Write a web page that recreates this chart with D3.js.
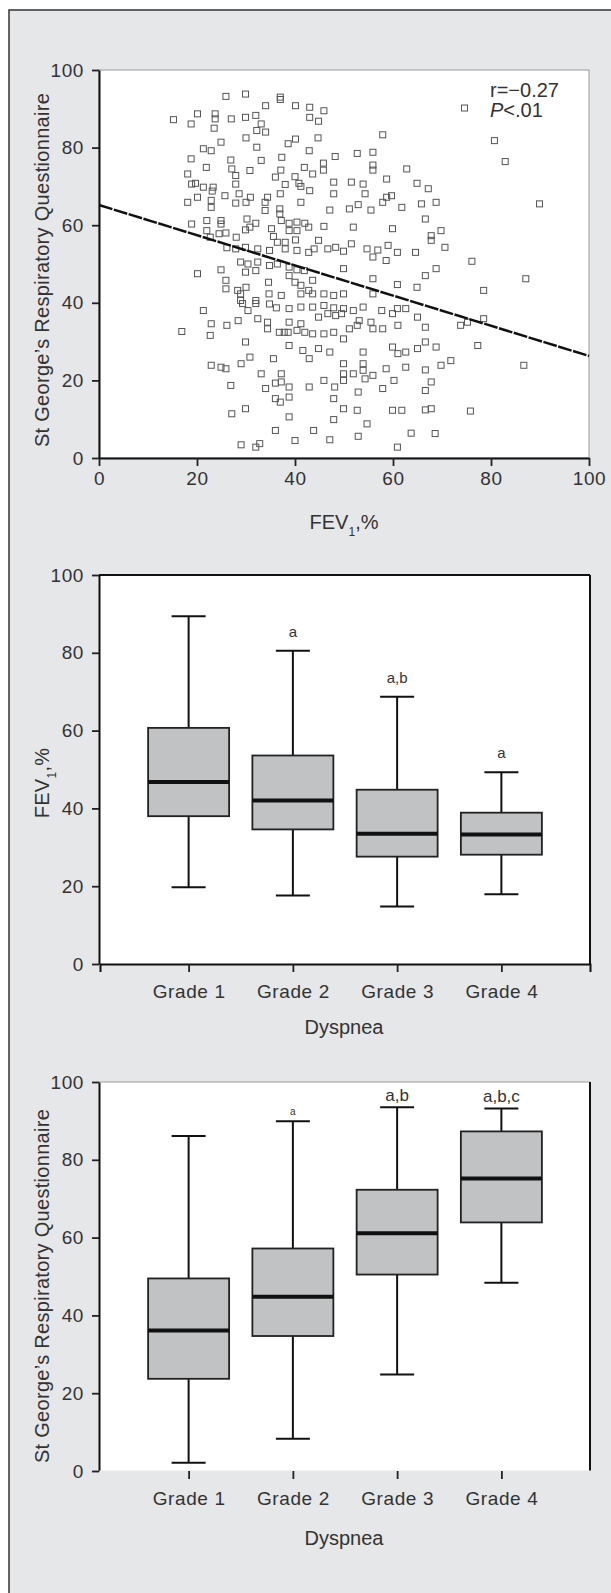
<!DOCTYPE html>
<html>
<head>
<meta charset="utf-8">
<script src="https://cdn.jsdelivr.net/npm/d3@7"></script>
<style>
  html, body { margin: 0; background: #fff; overflow: hidden; }
  svg { display: block; }
  text { font-family: "Liberation Sans", Arial, sans-serif; fill: #333; }
</style>
</head>
<body>
<script>
// scatter: [FEV1 %, SGRQ]
var scatterPoints = [
  [25.9,93.2],[29.9,93.8],[37.0,93.0],[37.0,92.4],[40.1,90.8],[43.0,90.4],[45.9,89.5],[34.0,90.8],[15.2,87.2],[20.1,88.7],
  [18.8,86.1],[23.7,88.7],[23.7,87.4],[27.0,87.4],[29.9,87.8],[32.0,88.3],[33.1,86.1],[32.2,84.4],[34.0,84.0],[43.0,87.8],
  [44.8,86.8],[23.5,85.0],[74.6,90.2],[57.9,83.3],[80.7,81.8],[82.9,76.4],[89.9,65.5],[40.1,82.2],[38.6,81.0],[21.3,79.7],
  [22.9,79.2],[24.9,81.4],[30.0,82.5],[32.2,80.1],[42.9,79.2],[44.7,82.5],[48.2,77.7],[52.7,78.5],[55.9,78.8],[18.8,77.1],
  [21.9,74.9],[26.9,76.8],[33.1,76.7],[37.3,77.5],[41.9,74.9],[45.8,76.0],[45.8,74.2],[55.9,75.5],[55.9,74.2],[62.8,74.5],
  [18.1,73.2],[27.1,74.5],[27.9,72.8],[30.8,74.1],[37.1,74.2],[40.0,72.5],[43.6,73.2],[18.9,70.6],[19.7,70.8],[21.3,69.8],
  [23.3,69.8],[27.9,70.6],[36.0,72.4],[38.0,70.5],[40.8,70.8],[41.2,70.0],[47.9,71.1],[51.5,71.1],[53.9,70.6],[58.7,71.9],
  [64.9,70.8],[67.2,69.4],[23.1,68.8],[25.7,67.6],[28.6,68.1],[30.9,67.2],[34.4,67.2],[37.0,68.1],[43.0,68.9],[47.9,68.1],
  [54.3,68.1],[58.7,67.2],[59.7,67.6],[18.1,65.9],[20.1,67.2],[22.9,66.4],[22.9,64.6],[27.9,65.7],[30.0,65.9],[33.9,65.9],
  [33.9,63.8],[36.9,64.2],[36.9,62.9],[41.2,65.9],[47.1,63.9],[51.1,64.2],[52.9,65.3],[55.5,63.9],[57.9,65.9],[61.8,64.6],
  [65.8,65.5],[68.8,65.9],[18.9,60.3],[22.0,61.2],[22.0,58.6],[24.9,61.2],[24.9,60.3],[30.2,61.6],[30.8,59.5],[32.0,60.5],
  [35.2,59.1],[37.2,61.2],[38.8,60.5],[38.8,58.6],[40.4,60.8],[40.4,58.6],[42.0,60.5],[42.8,59.5],[45.9,59.7],[51.9,59.5],
  [59.9,59.1],[66.6,61.6],[69.8,58.6],[24.5,57.8],[25.9,58.0],[28.0,56.9],[29.9,58.8],[35.6,57.1],[36.4,55.6],[38.0,55.6],
  [40.1,56.2],[44.8,56.1],[67.8,57.3],[67.8,56.1],[70.6,54.3],[22.7,56.9],[26.1,54.2],[27.9,53.9],[29.9,54.3],[32.4,53.9],
  [34.8,53.5],[38.0,53.9],[40.4,53.5],[42.8,53.0],[43.9,53.9],[46.7,53.9],[48.3,54.3],[49.9,53.3],[51.5,55.2],[54.7,53.9],
  [56.9,53.6],[59.0,54.8],[55.9,51.8],[58.6,50.9],[60.9,53.0],[64.6,53.0],[76.1,50.7],[28.9,50.5],[30.4,50.0],[32.4,50.5],
  [34.8,49.6],[36.4,50.0],[38.8,49.2],[40.4,48.5],[41.9,48.3],[49.9,48.8],[29.9,47.9],[32.0,48.3],[24.9,48.5],[20.1,47.5],
  [66.6,47.0],[68.8,48.8],[87.1,46.2],[38.8,47.0],[40.0,45.3],[25.9,45.8],[34.6,45.3],[43.6,45.8],[55.9,46.2],[60.9,44.7],
  [64.9,44.0],[25.9,43.6],[28.3,43.2],[28.9,42.3],[30.0,44.0],[34.7,42.3],[37.2,41.9],[41.2,44.5],[41.2,42.3],[42.8,43.2],
  [43.6,42.3],[45.9,42.3],[47.9,41.9],[49.9,42.3],[55.9,42.3],[78.5,43.2],[28.9,40.6],[29.3,39.8],[32.0,40.6],[32.0,39.8],
  [34.8,39.7],[36.2,38.7],[38.8,38.5],[41.2,38.9],[43.6,38.9],[45.9,39.3],[47.9,38.7],[49.9,38.5],[51.9,38.0],[53.9,38.9],
  [57.7,38.0],[59.9,37.2],[60.9,38.5],[62.6,38.5],[21.3,38.0],[30.4,38.0],[32.4,35.9],[34.4,35.0],[34.4,33.3],[38.8,35.0],
  [41.2,34.6],[44.8,36.3],[46.7,37.2],[48.3,36.7],[49.5,37.2],[53.1,35.4],[55.5,35.0],[65.0,36.3],[73.8,34.2],[75.2,35.0],
  [78.5,35.9],[22.9,34.6],[26.1,34.2],[28.4,35.4],[22.7,31.6],[16.9,32.6],[36.8,32.4],[37.8,32.4],[38.6,32.4],[40.4,32.9],
  [42.0,32.4],[43.6,32.0],[45.9,32.0],[47.9,32.4],[49.9,30.7],[51.1,33.3],[52.7,34.2],[55.9,33.3],[57.9,33.3],[61.0,34.2],
  [66.6,33.7],[77.3,29.0],[29.9,29.9],[38.8,29.0],[41.6,27.7],[44.8,28.2],[47.1,27.3],[53.9,27.3],[59.9,28.6],[61.0,26.9],
  [62.6,27.3],[65.0,28.2],[66.6,29.9],[68.8,28.6],[30.8,26.0],[35.6,25.6],[42.9,25.6],[49.9,24.3],[53.9,24.3],[22.9,23.9],
  [25.9,23.0],[24.9,23.4],[71.8,25.1],[69.8,23.9],[86.7,23.9],[29.0,24.3],[33.1,21.7],[37.2,21.7],[37.2,19.6],[36.0,19.3],
  [38.8,18.3],[42.9,18.3],[45.9,20.0],[49.9,21.7],[49.9,20.0],[51.9,21.7],[53.9,22.6],[54.3,20.4],[55.9,21.3],[58.6,23.0],
  [60.2,20.0],[62.6,23.4],[66.6,22.7],[67.8,19.6],[26.9,18.7],[34.0,17.9],[48.1,18.3],[52.9,17.0],[57.9,17.9],[66.6,17.4],
  [36.0,15.3],[37.0,14.4],[38.8,15.7],[47.9,15.3],[27.1,11.4],[29.9,12.7],[38.8,10.6],[47.9,9.9],[49.9,12.7],[52.7,12.3],
  [59.9,12.3],[61.8,12.3],[66.6,12.4],[67.8,12.7],[75.8,12.1],[54.7,8.8],[36.0,7.1],[43.8,7.1],[63.7,6.4],[68.6,6.3],
  [47.1,4.7],[40.0,4.5],[52.9,5.6],[29.0,3.4],[32.8,3.7],[32.0,2.8],[60.9,2.8]
];
var regLine = [[0, 65.2], [100, 26.3]];
var scatterXTicks = [0, 20, 40, 60, 80, 100];
var yTicks = [0, 20, 40, 60, 80, 100];

var grades = ["Grade 1", "Grade 2", "Grade 3", "Grade 4"];

// FEV1 % by dyspnea grade
var fevLow = [19.7, 17.6, 14.8, 17.9];
var fevQ1 = [38.0, 34.6, 27.6, 28.1];
var fevMedian = [46.8, 42.0, 33.5, 33.3];
var fevQ3 = [60.7, 53.6, 44.8, 38.9];
var fevHigh = [89.4, 80.5, 68.7, 49.3];
var fevMarks = ["", "a", "a,b", "a"];

// SGRQ by dyspnea grade
var sgrqLow = [2.1, 8.3, 24.8, 48.4];
var sgrqQ1 = [23.7, 34.7, 50.5, 63.9];
var sgrqMedian = [36.1, 44.8, 61.1, 75.2];
var sgrqQ3 = [49.5, 57.2, 72.3, 87.3];
var sgrqHigh = [86.1, 89.9, 93.5, 93.2];
var sgrqMarks = ["", "a", "a,b", "a,b,c"];

var W = 611, H = 1593;
var svg = d3.select("body").append("svg").attr("width", W).attr("height", H);

// page frame (only left and top edges fall inside the picture)
svg.append("rect").attr("x", 9).attr("y", 10).attr("width", 640).attr("height", 1620)
  .attr("fill", "#e5e7e9").attr("stroke", "#333").attr("stroke-width", 1.5);

var left = 99, right = 589;

function styleAxis(g, fs) {
  g.selectAll("text").style("font-size", fs + "px").style("letter-spacing", "0.6px").attr("fill", "#333");
  g.selectAll(".tick line").attr("stroke", "#222").attr("stroke-width", 1.8);
  g.select(".domain").attr("stroke", "#111").attr("stroke-width", 2);
}

function fevTitle(sel) {
  sel.append("tspan").attr("fill", "#333").text("FEV");
  sel.append("tspan").attr("fill", "#333").attr("baseline-shift", "sub").style("font-size", "12px").text("1");
  sel.append("tspan").attr("fill", "#333").text(",%");
}

// ---------- scatter ----------
(function () {
  var top = 70, bottom = 458;
  var x = d3.scaleLinear().domain([0, 100]).range([left, right]);
  var y = d3.scaleLinear().domain([0, 100]).range([bottom, top]);
  var g = svg.append("g");
  g.append("rect").attr("x", left).attr("y", top).attr("width", right - left).attr("height", bottom - top)
    .attr("fill", "#fff").attr("stroke", "#999").attr("stroke-width", 1);

  g.selectAll("rect.pt").data(scatterPoints).enter().append("rect").attr("class", "pt")
    .attr("x", function (d) { return x(d[0]) - 3; })
    .attr("y", function (d) { return y(d[1]) - 3; })
    .attr("width", 6).attr("height", 6)
    .attr("fill", "none").attr("stroke", "#555").attr("stroke-width", 1);

  g.append("path").datum(regLine)
    .attr("d", d3.line().x(function (d) { return x(d[0]); }).y(function (d) { return y(d[1]); }))
    .attr("stroke", "#111").attr("stroke-width", 2.5).attr("stroke-dasharray", "14,1.5").attr("fill", "none");

  var ya = g.append("g").attr("transform", "translate(" + left + ",0)")
    .call(d3.axisLeft(y).tickValues(yTicks).tickSize(7).tickSizeOuter(0).tickPadding(8));
  styleAxis(ya, 19);
  var xa = g.append("g").attr("transform", "translate(0," + bottom + ")")
    .call(d3.axisBottom(x).tickValues(scatterXTicks).tickSize(8).tickSizeOuter(0).tickPadding(6));
  styleAxis(xa, 19);

  g.append("text").attr("x", 490).attr("y", 97).style("font-size", "20px").text("r=\u22120.27");
  var p = g.append("text").attr("x", 490).attr("y", 117).style("font-size", "20px");
  p.append("tspan").attr("fill", "#333").style("font-style", "italic").text("P");
  p.append("tspan").attr("fill", "#333").text("<.01");

  g.append("text").attr("transform", "translate(49,270) rotate(-90)").attr("text-anchor", "middle")
    .style("font-size", "20px").style("letter-spacing", "0.3px").text("St George\u2019s Respiratory Questionnaire");
  g.append("text").attr("x", (left + right) / 2).attr("y", 529).attr("text-anchor", "middle")
    .style("font-size", "20px").call(fevTitle);
})();

// ---------- box plots ----------
function boxPanel(cfg) {
  var top = cfg.top, bottom = cfg.bottom;
  var x = d3.scalePoint().domain(grades).range([left + 1, right + 1]).padding(0.85);
  var y = d3.scaleLinear().domain([0, 100]).range([bottom, top]);
  var g = svg.append("g");
  var bw = 81, cw = 34;

  g.append("rect").attr("x", left).attr("y", top).attr("width", right - left + 1).attr("height", bottom - top)
    .attr("fill", "#fff");
  g.append("line").attr("x1", left).attr("x2", right + 1).attr("y1", top).attr("y2", top)
    .attr("stroke", cfg.topColor).attr("stroke-width", cfg.topWidth);
  g.append("line").attr("x1", right + 1).attr("x2", right + 1).attr("y1", top).attr("y2", bottom)
    .attr("stroke", "#111").attr("stroke-width", 2);

  grades.forEach(function (gr, i) {
    var cx = x(gr);
    var wh = g.append("g").attr("stroke", "#111").attr("stroke-width", 2);
    wh.append("line").attr("x1", cx).attr("x2", cx).attr("y1", y(cfg.low[i])).attr("y2", y(cfg.q1[i]));
    wh.append("line").attr("x1", cx).attr("x2", cx).attr("y1", y(cfg.q3[i])).attr("y2", y(cfg.high[i]));
    wh.append("line").attr("x1", cx - cw / 2).attr("x2", cx + cw / 2).attr("y1", y(cfg.low[i])).attr("y2", y(cfg.low[i]));
    wh.append("line").attr("x1", cx - cw / 2).attr("x2", cx + cw / 2).attr("y1", y(cfg.high[i])).attr("y2", y(cfg.high[i]));
    g.append("rect").attr("x", cx - bw / 2).attr("y", y(cfg.q3[i]))
      .attr("width", bw).attr("height", y(cfg.q1[i]) - y(cfg.q3[i]))
      .attr("fill", "#c0c2c4").attr("stroke", "#222").attr("stroke-width", 1.8);
    g.append("line").attr("x1", cx - bw / 2).attr("x2", cx + bw / 2)
      .attr("y1", y(cfg.median[i])).attr("y2", y(cfg.median[i]))
      .attr("stroke", "#111").attr("stroke-width", 4);
    if (cfg.marks[i]) {
      g.append("text").attr("x", cx).attr("y", y(cfg.high[i]) - cfg.markGap)
        .attr("text-anchor", "middle").style("font-size", (i === cfg.smallMark ? 10 : cfg.markSize) + "px")
        .text(cfg.marks[i]);
    }
  });

  var ya = g.append("g").attr("transform", "translate(" + left + ",0)")
    .call(d3.axisLeft(y).tickValues(yTicks).tickSize(7).tickSizeOuter(0).tickPadding(8));
  styleAxis(ya, 19);
  var xa = g.append("g").attr("transform", "translate(0," + bottom + ")")
    .call(d3.axisBottom(x).tickSize(8).tickSizeOuter(8).tickPadding(13));
  styleAxis(xa, 19);
  xa.select(".domain").attr("stroke", cfg.baseColor);

  var yl = g.append("text").attr("transform", "translate(49," + cfg.yLabelMid + ") rotate(-90)")
    .attr("text-anchor", "middle").style("font-size", "20px").style("letter-spacing", "0.3px");
  cfg.yLabel(yl);
  g.append("text").attr("x", (left + right) / 2).attr("y", cfg.xTitleY).attr("text-anchor", "middle")
    .style("font-size", "20px").text("Dyspnea");
}

boxPanel({
  top: 575, bottom: 964, low: fevLow, q1: fevQ1, median: fevMedian, q3: fevQ3, high: fevHigh,
  marks: fevMarks, markGap: 14, markSize: 15, smallMark: -1,
  topColor: "#111", topWidth: 2, baseColor: "#111",
  yLabelMid: 783, yLabel: fevTitle, xTitleY: 1034
});

boxPanel({
  top: 1082, bottom: 1471, low: sgrqLow, q1: sgrqQ1, median: sgrqMedian, q3: sgrqQ3, high: sgrqHigh,
  marks: sgrqMarks, markGap: 6, markSize: 17, smallMark: 1,
  topColor: "#999", topWidth: 1, baseColor: "#e5e7e9",
  yLabelMid: 1286, yLabel: function (s) { s.text("St George\u2019s Respiratory Questionnaire"); }, xTitleY: 1545
});
</script>
</body>
</html>
